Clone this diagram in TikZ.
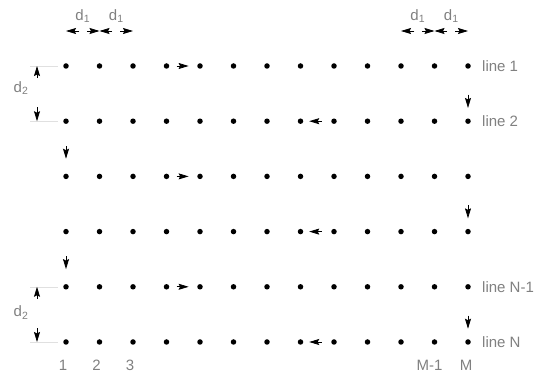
\documentclass[tikz,border=0pt]{standalone}
\usepackage{fontspec}
\setmainfont{Liberation Sans}
\usepackage{tikz}
\usetikzlibrary{arrows.meta,calc}

\begin{document}
\begin{tikzpicture}[
    x=1pt,y=-1pt,
    pixel/.style={circle,fill=black,inner sep=0pt,minimum size=5.5pt},
    lbl/.style={text=black!50,font=\fontsize{15}{18}\selectfont,inner sep=0pt},
    scantip/.style={-{Stealth[length=10pt,width=6pt,inset=1.5pt]},line width=0.8pt},
    dimtip/.style={-{Stealth[length=10pt,width=6pt,inset=1.5pt]},line width=0.8pt},
    extline/.style={black!12,line width=0.5pt},
    >=Stealth
  ]
    \useasboundingbox (0,0) rectangle (542,379);
    % N = 6 lines of M = 13 pixels
    \foreach \r in {1,...,6}{
      \foreach \c in {1,...,13}{
        \node[pixel] (p-\r-\c) at ({66+(\c-1)*33.5},{66+(\r-1)*55.2}) {};
      }
    }
    % scan direction
    \foreach \r in {1,3,5}
      \draw[scantip] ($(p-\r-4)!0.3!(p-\r-5)$) -- ($(p-\r-4)!0.66!(p-\r-5)$);
    \foreach \r in {2,4,6}
      \draw[scantip] ($(p-\r-9)!0.36!(p-\r-8)$) -- ($(p-\r-9)!0.74!(p-\r-8)$);
    \foreach \r/\s in {1/2,3/4,5/6}
      \draw[scantip] ($(p-\r-13)!0.52!(p-\s-13)$) -- ($(p-\r-13)!0.76!(p-\s-13)$);
    \foreach \r/\s in {2/3,4/5}
      \draw[scantip] ($(p-\r-1)!0.45!(p-\s-1)$) -- ($(p-\r-1)!0.68!(p-\s-1)$);

    % d1 (top)
    \coordinate (top) at (0,31);
    \coordinate (a1) at (p-1-1 |- top);
    \coordinate (a2) at (p-1-2 |- top);
    \coordinate (a3) at (p-1-3 |- top);
    \coordinate (a11) at (p-1-11 |- top);
    \coordinate (a12) at (p-1-12 |- top);
    \coordinate (a13) at (p-1-13 |- top);
    \draw[dimtip] ($(a1)!0.4!(a2)$) -- (a1);
    \draw[dimtip] ($(a1)!0.62!(a2)$) -- (a2);
    \draw[dimtip] ($(a2)!0.38!(a3)$) -- (a2);
    \draw[dimtip] ($(a2)!0.62!(a3)$) -- (a3);
    \draw[dimtip] ($(a11)!0.4!(a12)$) -- (a11);
    \draw[dimtip] ($(a11)!0.62!(a12)$) -- (a12);
    \draw[dimtip] ($(a12)!0.38!(a13)$) -- (a12);
    \draw[dimtip] ($(a12)!0.62!(a13)$) -- (a13);
    \node[lbl] (d1a) at ($(a1)!0.5!(a2)+(0,-15)$) {d\textsubscript{1}};
    \node[lbl] (d1b) at ($(a2)!0.5!(a3)+(0,-15)$) {d\textsubscript{1}};
    \node[lbl] (d1c) at ($(a11)!0.5!(a12)+(0,-15)$) {d\textsubscript{1}};
    \node[lbl] (d1d) at ($(a12)!0.5!(a13)+(0,-15)$) {d\textsubscript{1}};

    % d2 (left)
    \coordinate (left) at (37,0);
    \coordinate (b1) at (left |- p-1-1);
    \coordinate (b2) at (left |- p-2-1);
    \coordinate (b5) at (left |- p-5-1);
    \coordinate (b6) at (left |- p-6-1);
    \foreach \r in {1,2,5,6}
      \draw[extline] ($(p-\r-1)+(-8,0)$) -- ($(p-\r-1)+(-36,0)$);
    \draw[dimtip] ($(b1)!0.22!(b2)$) -- (b1);
    \draw[dimtip] ($(b2)!0.25!(b1)$) -- (b2);
    \draw[dimtip] ($(b5)!0.22!(b6)$) -- (b5);
    \draw[dimtip] ($(b6)!0.25!(b5)$) -- (b6);
    \node[lbl] (d2a) at ($(b1)!0.4!(b2)+(-16,0)$) {d\textsubscript{2}};
    \node[lbl] (d2b) at ($(b5)!0.47!(b6)+(-16,0)$) {d\textsubscript{2}};

    % line labels
    \node[lbl,anchor=west] (l1) at ($(p-1-13)+(14,0)$) {line 1};
    \node[lbl,anchor=west] (l2) at ($(p-2-13)+(14,0)$) {line 2};
    \node[lbl,anchor=west] (l5) at ($(p-5-13)+(14,0)$) {line N-1};
    \node[lbl,anchor=west] (l6) at ($(p-6-13)+(14,0)$) {line N};

    % pixel labels
    \node[lbl] (c1) at ($(p-6-1)+(-3,23)$) {1};
    \node[lbl] (c2) at ($(p-6-2)+(-3,23)$) {2};
    \node[lbl] (c3) at ($(p-6-3)+(-3,23)$) {3};
    \node[lbl] (c12) at ($(p-6-12)+(-5,23)$) {M-1};
    \node[lbl] (c13) at ($(p-6-13)+(-2,23)$) {M};
  \end{tikzpicture}
\end{document}
